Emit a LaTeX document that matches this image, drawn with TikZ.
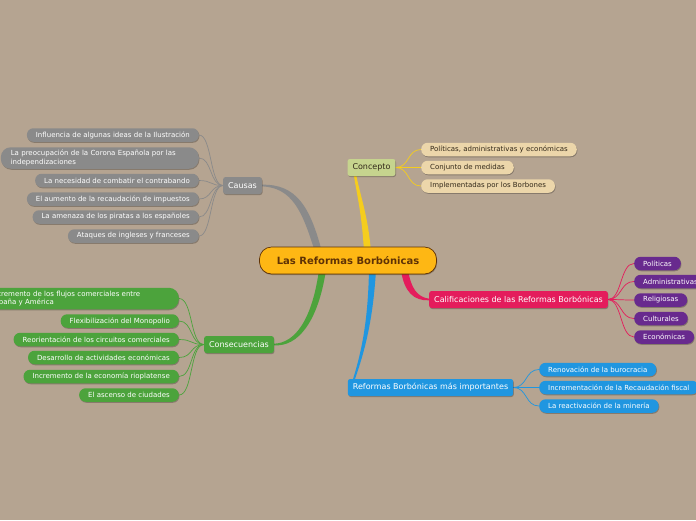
\documentclass[tikz,border=0pt]{standalone}
\usepackage{fontspec}
\setmainfont{DejaVu Sans}
\usetikzlibrary{shadows}
\definecolor{bgc}{RGB}{181,164,145}
\definecolor{ctrfill}{RGB}{254,183,20}
\definecolor{ctrtext}{RGB}{95,50,5}
\definecolor{gry}{RGB}{138,138,138}
\definecolor{grn}{RGB}{76,163,60}
\definecolor{yel}{RGB}{245,205,30}
\definecolor{conc}{RGB}{198,212,142}
\definecolor{beige}{RGB}{236,214,170}
\definecolor{pnk}{RGB}{228,28,92}
\definecolor{purp}{RGB}{104,42,142}
\definecolor{blu}{RGB}{32,150,224}
\definecolor{darktxt}{RGB}{50,40,25}
\pgfdeclarelayer{bgl}
\pgfdeclarelayer{back}
\pgfsetlayers{bgl,back,main}
\tikzset{
  shd/.style={drop shadow={shadow xshift=0.6pt,shadow yshift=-1pt,opacity=0.25,fill=black}},
  leaf/.style={shd,rounded corners=6.5pt,minimum height=13.5pt,inner xsep=9pt,inner ysep=0pt,
    font=\fontsize{7}{8}\selectfont,text=white},
  leaftwo/.style={shd,rounded corners=10pt,minimum height=21.5pt,inner xsep=10pt,inner ysep=0pt,
    font=\fontsize{7}{8.5}\selectfont,text=white,align=left,text width=178pt},
  topic/.style={shd,rounded corners=2.5pt,minimum height=17pt,inner xsep=5pt,inner ysep=0pt,
    font=\fontsize{8}{9.5}\selectfont,text=white},
  thin/.style={line width=0.7pt},
}
\begin{document}
\begin{tikzpicture}[x=1pt,y=-1pt]
\begin{pgfonlayer}{bgl}
\fill[bgc] (0,0) rectangle (696,520);
\end{pgfonlayer}
\useasboundingbox (0,0) rectangle (696,520);

% central
\node[shd,draw=ctrtext,line width=0.7pt,fill=ctrfill,rounded corners=12pt,minimum width=177pt,minimum height=27pt,
  font=\fontsize{10}{12}\selectfont\bfseries,text=ctrtext] (ctr) at (348,260.5) {Las Reformas Borbónicas};

% main topics
\node[topic,fill=conc,text=darktxt] (conc) at (371.5,167.5) {Concepto};
\node[topic,fill=gry] (causas) at (242.5,185.5) {Causas};
\node[topic,fill=grn] (consec) at (239,344.5) {Consecuencias};
\node[topic,fill=pnk] (calif) at (518.5,299.5) {Calificaciones de las Reformas Borbónicas};
\node[topic,fill=blu] (reform) at (430.5,387.5) {Reformas Borbónicas más importantes};

% concepto children
\node[leaf,fill=beige,text=darktxt,anchor=west] (k1) at (421,149.5) {Políticas, administrativas y económicas};
\node[leaf,fill=beige,text=darktxt,anchor=west] (k2) at (421,167.5) {Conjunto de medidas};
\node[leaf,fill=beige,text=darktxt,anchor=west] (k3) at (421,186) {Implementadas por los Borbones};

% causas children
\node[leaf,fill=gry,anchor=east] (c1) at (199,135) {Influencia de algunas ideas de la Ilustración};
\node[leaftwo,fill=gry,anchor=east] (c2) at (199,158) {La preocupación de la Corona Española por las\\independizaciones};
\node[leaf,fill=gry,anchor=east] (c3) at (199,180.5) {La necesidad de combatir el contrabando};
\node[leaf,fill=gry,anchor=east] (c4) at (199,199) {El aumento de la recaudación de impuestos};
\node[leaf,fill=gry,anchor=east] (c5) at (199,217) {La amenaza de los piratas a los españoles};
\node[leaf,fill=gry,anchor=east] (c6) at (199,236) {Ataques de ingleses y franceses};

% consecuencias children
\node[leaftwo,fill=grn,anchor=east] (s1) at (179,298.5) {Incremento de los flujos comerciales entre\\España y América};
\node[leaf,fill=grn,anchor=east] (s2) at (179,321) {Flexibilización del Monopolio};
\node[leaf,fill=grn,anchor=east] (s3) at (179,339.5) {Reorientación de los circuitos comerciales};
\node[leaf,fill=grn,anchor=east] (s4) at (179,357.5) {Desarrollo de actividades económicas};
\node[leaf,fill=grn,anchor=east] (s5) at (179,376.5) {Incremento de la economía rioplatense};
\node[leaf,fill=grn,anchor=east] (s6) at (179,395) {El ascenso de ciudades};

% calificaciones children
\node[leaf,fill=purp,anchor=west] (p1) at (634,263.5) {Políticas};
\node[leaf,fill=purp,anchor=west] (p2) at (634,281.5) {Administrativas};
\node[leaf,fill=purp,anchor=west] (p3) at (634,300) {Religiosas};
\node[leaf,fill=purp,anchor=west] (p4) at (634,318.5) {Culturales};
\node[leaf,fill=purp,anchor=west] (p5) at (634,337) {Económicas};

% reformas children
\node[leaf,fill=blu,anchor=west] (r1) at (539,369.5) {Renovación de la burocracia};
\node[leaf,fill=blu,anchor=west] (r2) at (539,387.5) {Incrementación de la Recaudación fiscal};
\node[leaf,fill=blu,anchor=west] (r3) at (539,406) {La reactivación de la minería};

\begin{pgfonlayer}{back}
% tapered main connectors
\fill[gry] (315,252) .. controls (302,210) and (292,188) .. ([yshift=-0.8pt]causas.east)
  -- ([yshift=0.8pt]causas.east) .. controls (296,184) and (310,206) .. (322,252) -- cycle;
\fill[yel] (364,252) .. controls (362,215) and (357,195) .. ([xshift=-17.5pt]conc.south)
  -- ([xshift=-15pt]conc.south) .. controls (360,195) and (368,215) .. (371,252) -- cycle;
\fill[grn] (319,270) .. controls (312,320) and (295,343) .. ([yshift=0.8pt]consec.east)
  -- ([yshift=-0.8pt]consec.east) .. controls (298,347) and (318,322) .. (326,270) -- cycle;
\fill[blu] (369,270) .. controls (368,320) and (362,350) .. ([xshift=5.5pt]reform.north west)
  -- ([xshift=7.5pt]reform.north west) .. controls (365,350) and (373,320) .. (376,270) -- cycle;
\fill[pnk] (401,270) .. controls (404,292) and (414,301) .. ([yshift=-0.8pt]calif.west)
  -- ([yshift=0.8pt]calif.west) .. controls (417,297) and (411,288) .. (408,270) -- cycle;

% child connectors
\foreach \n in {k1,k2,k3}
  \draw[thin,yel] (conc.east) .. controls +(14,0) and +(-14,0) .. (\n.west);
\foreach \n in {c1,c2,c3,c4,c5,c6}
  \draw[thin,gry] (causas.west) .. controls +(-13,0) and +(13,0) .. (\n.east);
\foreach \n in {s1,s2,s3,s4,s5,s6}
  \draw[thin,grn] (consec.west) .. controls +(-14,0) and +(14,0) .. (\n.east);
\foreach \n in {p1,p2,p3,p4,p5}
  \draw[thin,pnk] (calif.east) .. controls +(14,0) and +(-14,0) .. (\n.west);
\foreach \n in {r1,r2,r3}
  \draw[thin,blu] (reform.east) .. controls +(14,0) and +(-14,0) .. (\n.west);
\end{pgfonlayer}
\end{tikzpicture}
\end{document}
